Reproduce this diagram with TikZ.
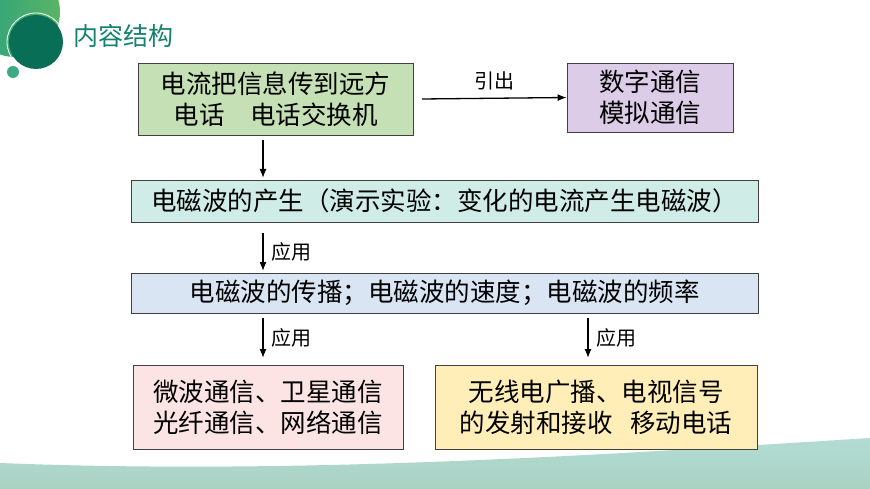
\documentclass[tikz,border=0pt]{standalone}
\usepackage{fontspec}
\newfontfamily\cjk{Noto Sans CJK SC}
\usetikzlibrary{arrows.meta}
\begin{document}
\begin{tikzpicture}[x=1pt,y=-1pt,
 box/.style={draw=black!75,line width=0.8pt,font=\cjk\fontsize{25.5}{31}\selectfont,align=center,inner sep=0},
 arr/.style={-{Latex[length=9pt,width=7pt]},line width=1.3pt},
 lab/.style={font=\cjk\fontsize{20}{22}\selectfont}]
\useasboundingbox (0,0) rectangle (870,489);
\fill[white] (0,0) rectangle (870,489);
% decorations
\shade[left color={rgb,255:red,40;green,160;blue,130}, right color={rgb,255:red,90;green,180;blue,100}] (15,12) circle (45);
\fill[color={rgb,255:red,8;green,110;blue,86}] (36,42) circle (27);
\draw[white,line width=0.8pt] (36,42) circle (29);
\fill[color={rgb,255:red,60;green,170;blue,130}] (13,72) circle (6);
\node[font=\cjk\fontsize{25}{28}\selectfont,text={rgb,255:red,20;green,130;blue,110},anchor=west] (title) at (70,36) {内容结构};
\shade[top color={rgb,255:red,178;green,220;blue,212},bottom color={rgb,255:red,170;green,210;blue,195}]
 (0,463) .. controls (300,475) and (600,455) .. (870,438) -- (870,489) -- (0,489) -- cycle;
% boxes
\node[box,fill={rgb,255:red,197;green,224;blue,180},minimum width=275,minimum height=72] (b1) at (275.5,99) {电流把信息传到远方\\电话\quad 电话交换机};
\node[box,fill={rgb,255:red,220;green,204;blue,232},minimum width=166,minimum height=69] (b2) at (650,97.5) {数字通信\\模拟通信};
\node[box,fill={rgb,255:red,208;green,236;blue,230},minimum width=627,minimum height=42] (b3) at (444.5,201) {电磁波的产生（演示实验：变化的电流产生电磁波）};
\node[box,fill={rgb,255:red,218;green,229;blue,243},minimum width=627,minimum height=40] (b4) at (444.5,293) {电磁波的传播；电磁波的速度；电磁波的频率};
\node[box,fill={rgb,255:red,253;green,228;blue,228},minimum width=270,minimum height=84] (b5) at (268,407) {微波通信、卫星通信\\光纤通信、网络通信};
\node[box,fill={rgb,255:red,255;green,238;blue,184},minimum width=322,minimum height=84] (b6) at (596,407) {无线电广播、电视信号\\的发射和接收\hspace{0.7em}移动电话};
% arrows
\coordinate (a1) at (422,99);
\draw[arr] (a1) -- (b2.west) node[midway,above=4pt,lab] {引出};
\draw[arr] (263,140) -- (263,178);
\draw[arr] (263,233) -- (263,271) node[midway,right=5pt,lab] {应用};
\draw[arr] (263,318) -- (263,358) node[midway,right=5pt,lab] {应用};
\draw[arr] (588,318) -- (588,358) node[midway,right=5pt,lab] {应用};
\end{tikzpicture}
\end{document}
